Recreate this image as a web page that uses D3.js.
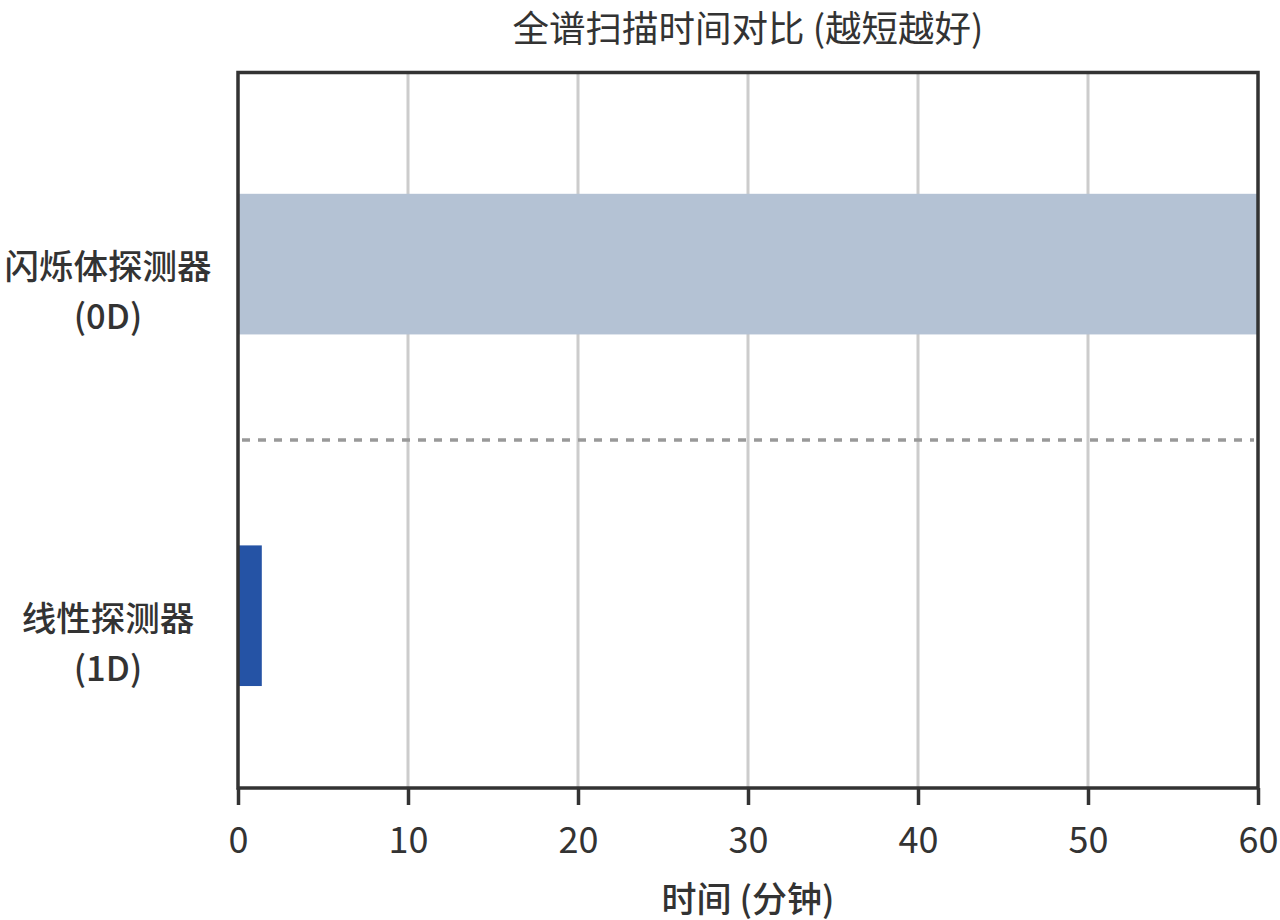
<!DOCTYPE html>
<html>
<head>
<meta charset="utf-8">
<script src="https://cdn.jsdelivr.net/npm/d3@7"></script>
<style>
  body { margin: 0; background: #fff; }
  text { font-family: "Noto Sans CJK SC", "Noto Sans", sans-serif; fill: #333; }
</style>
</head>
<body>
<div id="chart"></div>
<script>
// chart data
var detectorNames = [["闪烁体探测器", "(0D)"], ["线性探测器", "(1D)"]];
var scanMinutes = [60, 1.4];
var barColors = ["#b4c2d4", "#2553a5"];
var xTicks = [0, 10, 20, 30, 40, 50, 60];
var chartTitle = "全谱扫描时间对比 (越短越好)";
var xLabel = "时间 (分钟)";

var svgWidth = 1280;
var svgHeight = 920;

var margin = { top: 72.5, bottom: 132, right: 22, left: 238 };
var width = svgWidth - margin.left - margin.right;
var height = svgHeight - margin.top - margin.bottom;

var svg = d3.select("#chart")
  .append("svg")
  .attr("width", svgWidth)
  .attr("height", svgHeight);

var chartGroup = svg.append("g")
  .attr("transform", `translate(${margin.left}, ${margin.top})`);

// scales
var xScale = d3.scaleLinear()
  .domain([0, 60])
  .range([0, width]);

// bar positions: 0D at 1, 1D at 0
var yScale = d3.scaleLinear()
  .domain([-0.49, 1.545])
  .range([height, 0]);

var barHalf = 0.2;
var data = detectorNames.map(function(n, i) {
  return { name: n, value: scanMinutes[i], pos: 1 - i, color: barColors[i] };
});

// grid lines
chartGroup.append("g")
  .selectAll("line")
  .data(xTicks.slice(1, -1))
  .enter()
  .append("line")
  .attr("x1", d => xScale(d))
  .attr("x2", d => xScale(d))
  .attr("y1", 0)
  .attr("y2", height)
  .attr("stroke", "#cccccc")
  .attr("stroke-width", 3);

// bars
chartGroup.selectAll("rect.bar")
  .data(data)
  .enter()
  .append("rect")
  .attr("class", "bar")
  .attr("x", xScale(0))
  .attr("y", d => yScale(d.pos + barHalf))
  .attr("width", d => xScale(d.value) - xScale(0))
  .attr("height", d => yScale(d.pos - barHalf) - yScale(d.pos + barHalf))
  .attr("fill", d => d.color);

// separator
chartGroup.append("line")
  .attr("x1", 4)
  .attr("x2", width - 4)
  .attr("y1", yScale(0.5))
  .attr("y2", yScale(0.5))
  .attr("stroke", "#999999")
  .attr("stroke-width", 3.5)
  .attr("stroke-dasharray", "8,8");

// x axis
var xAxis = d3.axisBottom(xScale)
  .tickValues(xTicks)
  .tickSize(17)
  .tickPadding(22)
  .tickSizeOuter(0);

var xAxisGroup = chartGroup.append("g")
  .attr("transform", `translate(0, ${height})`)
  .call(xAxis);
xAxisGroup.select(".domain").remove();
xAxisGroup.selectAll(".tick line")
  .attr("stroke", "#333")
  .attr("stroke-width", 3.5);
xAxisGroup.selectAll(".tick text")
  .attr("font-size", 36)
  .attr("fill", "#333")
  .style("font-family", "'Noto Sans CJK SC', sans-serif");

// frame
chartGroup.append("rect")
  .attr("x", 0)
  .attr("y", 0)
  .attr("width", width)
  .attr("height", height)
  .attr("fill", "none")
  .attr("stroke", "#333")
  .attr("stroke-width", 3.5);

// y labels
var yLabels = chartGroup.append("g")
  .selectAll("text")
  .data(data)
  .enter()
  .append("text")
  .attr("x", -130)
  .attr("y", d => yScale(d.pos))
  .attr("text-anchor", "middle")
  .attr("dominant-baseline", "central")
  .attr("font-size", 34.5)
  .attr("font-weight", 500);

yLabels.selectAll("tspan")
  .data(d => d.name)
  .enter()
  .append("tspan")
  .attr("x", -130)
  .attr("dy", (d, i) => i === 0 ? 0 : 50)
  .text(d => d);

// title
svg.append("text")
  .attr("x", margin.left + width / 2)
  .attr("y", 26)
  .attr("text-anchor", "middle")
  .attr("dominant-baseline", "central")
  .attr("font-size", 36.5)
  .text(chartTitle);

// x label
svg.append("text")
  .attr("x", margin.left + width / 2)
  .attr("y", 896)
  .attr("text-anchor", "middle")
  .attr("dominant-baseline", "central")
  .attr("font-size", 35)
  .attr("font-weight", 500)
  .text(xLabel);
</script>
</body>
</html>
